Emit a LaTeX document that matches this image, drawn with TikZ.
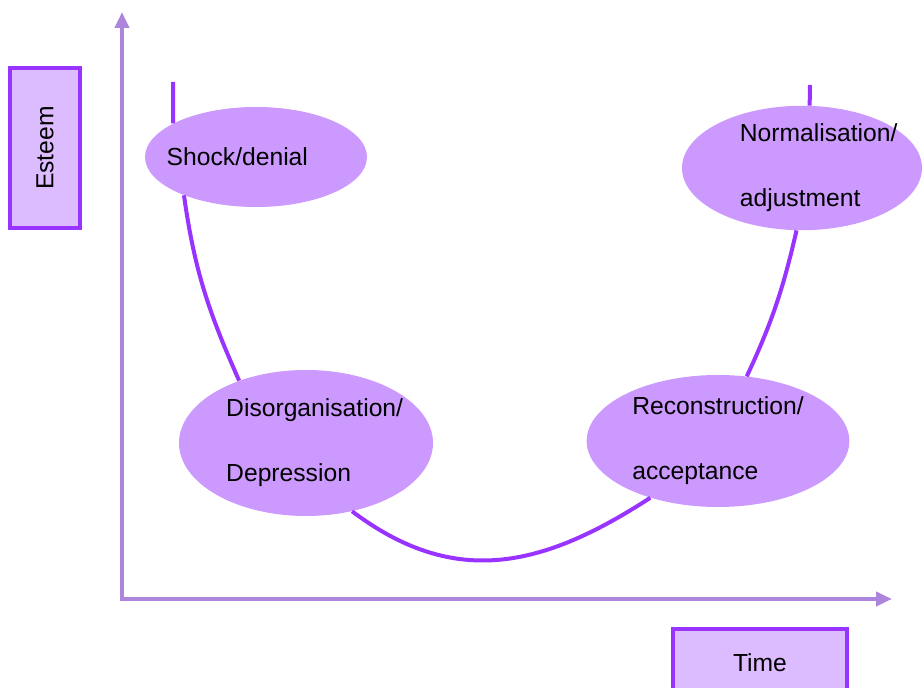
\documentclass[tikz,border=0pt]{standalone}
\usepackage{fontspec}
\setsansfont{Liberation Sans}
\usepackage{tikz}
\usetikzlibrary{shapes, arrows.meta, positioning}

\definecolor{stage_fill}{HTML}{CC99FF}
\definecolor{phase_purple}{HTML}{9933FF}
\definecolor{box_fill}{HTML}{DDBBFF}
\definecolor{axis_purple}{HTML}{AD85DC}

\begin{document}
\begin{tikzpicture}[
        x=0.75pt, y=0.75pt,
        stage/.style={ellipse, fill=stage_fill, inner xsep=-20pt, inner ysep=0pt, align=left, font=\sffamily\fontsize{18.5}{48.75}\selectfont},
        label_box/.style={rectangle, draw=phase_purple, line width=2.8pt, fill=box_fill, inner sep=0pt, font=\sffamily\fontsize{18.5}{22}\selectfont},
        axis_arrow/.style={{Triangle[length=12pt, width=10.5pt]}-{Triangle[length=12pt, width=10.5pt]}, draw=axis_purple, line width=3pt},
        phase_line/.style={draw=phase_purple, line width=3pt}
    ]
    \useasboundingbox (0,0) rectangle (922,688);
    \coordinate (y_tip) at (122,676);
    \coordinate (x_tip) at (892,89);
    \draw[axis_arrow] (y_tip) |- (x_tip);
    \node[label_box, rotate=90, minimum width=120pt, minimum height=52.5pt] (esteem) at (45,540) {Esteem};
    \node[label_box, minimum width=130.5pt, minimum height=51pt] (time) at (760,25) {Time};
    \node[stage, minimum width=166.5pt, minimum height=75pt] (shock_denial) at (256,531) {Shock/denial\hspace*{28pt}};
    \node[stage, minimum width=180pt, minimum height=92pt] (normalisation) at (802,520) {\hspace*{25pt}Normalisation/\\\hspace*{25pt}adjustment};
    \node[stage, minimum width=190.5pt, minimum height=109.5pt] (disorganisation) at (306,245) {\hspace*{13pt}Disorganisation/\\\hspace*{13pt}Depression};
    \node[stage, minimum width=197pt, minimum height=99pt] (reconstruction) at (718,247) {Reconstruction/\\acceptance};
    \coordinate (shock_top) at (173,606);
    \coordinate (norm_top) at (810,603);
    \draw[phase_line] (shock_top) -- (shock_denial.158);
    \draw[phase_line] (shock_denial.208) to[out=-82, in=114] (disorganisation.137);
    \draw[phase_line] (disorganisation.-56) to[out=-37, in=213, looseness=1.1] (reconstruction.220);
    \draw[phase_line] (reconstruction.66) to[out=65, in=-103] (normalisation.-95);
    \draw[phase_line] (normalisation.83) -- (norm_top);
\end{tikzpicture}
\end{document}
